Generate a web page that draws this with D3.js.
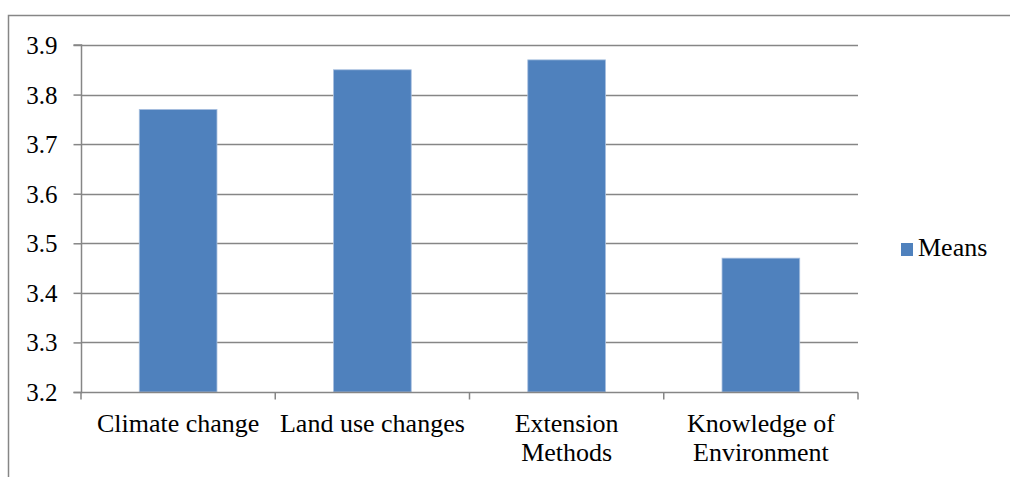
<!DOCTYPE html>
<html>
<head>
<meta charset="utf-8">
<script src="https://cdn.jsdelivr.net/npm/d3@7/dist/d3.min.js"></script>
<style>
  html, body { margin: 0; padding: 0; background: #fff; }
  svg { display: block; }
</style>
</head>
<body>
<svg id="chart" width="1010" height="477"></svg>
<script>
// Mean scores per topic
const categories = [["Climate change"], ["Land use changes"], ["Extension", "Methods"], ["Knowledge of", "Environment"]];
const meansValues = [3.77, 3.85, 3.87, 3.47];
const yTicks = [3.2, 3.3, 3.4, 3.5, 3.6, 3.7, 3.8, 3.9];
const seriesName = "Means";

const svg = d3.select("#chart");
const plot = { left: 81, right: 858, top: 45, bottom: 392 };
const gridColor = "#868686";
const barColor = "#4F81BD";

// serif label text
function serif(sel, size) {
  return sel.attr("font-family", "Liberation Serif").attr("font-size", size).attr("fill", "#000");
}

// outer frame
svg.append("path")
  .attr("d", "M8.5,477 V15.5 H1010")
  .attr("fill", "none").attr("stroke", gridColor).attr("stroke-width", 1.5);

const x = d3.scaleBand().domain(d3.range(categories.length)).range([plot.left, plot.right]).padding(0);
const y = d3.scaleLinear().domain([3.2, 3.9]).range([plot.bottom, plot.top]);

// horizontal gridlines
svg.append("g").selectAll("line").data(yTicks.slice(1)).join("line")
  .attr("x1", plot.left).attr("x2", plot.right)
  .attr("y1", d => Math.round(y(d)) + 0.5).attr("y2", d => Math.round(y(d)) + 0.5)
  .attr("stroke", gridColor).attr("stroke-width", 1.5);

// bars
const barW = x.bandwidth() * 0.4;
svg.append("g").selectAll("rect").data(meansValues).join("rect")
  .attr("x", (d, i) => x(i) + (x.bandwidth() - barW) / 2)
  .attr("width", barW)
  .attr("y", d => y(d))
  .attr("height", d => y(3.2) - y(d))
  .attr("fill", barColor)
  .attr("stroke", "#a7bfdf").attr("stroke-width", 0.8);

// y axis
const yAxis = d3.axisLeft(y).tickValues(yTicks).tickFormat(d3.format(".1f")).tickSize(8).tickPadding(16);
const gy = svg.append("g").attr("transform", `translate(${plot.left + 0.5},0)`).call(yAxis);
gy.attr("font-family", "Liberation Serif").attr("font-size", 25);
gy.select(".domain").attr("stroke", gridColor).attr("stroke-width", 1.5).attr("d", `M-8,${plot.bottom + 0.5}H0V${plot.top}H-8`);
gy.selectAll(".tick line").attr("stroke", gridColor).attr("stroke-width", 1.5);
serif(gy.selectAll(".tick text"), 25).attr("dy", "0.34em");

// x axis with ticks at category boundaries
const gx = svg.append("g").attr("transform", `translate(0,${plot.bottom + 0.5})`);
gx.append("line").attr("x1", plot.left).attr("x2", plot.right)
  .attr("stroke", gridColor).attr("stroke-width", 1.5);
gx.selectAll("line.tk").data(d3.range(categories.length + 1)).join("line").attr("class", "tk")
  .attr("x1", i => i < categories.length ? x(i) : plot.right)
  .attr("x2", i => i < categories.length ? x(i) : plot.right)
  .attr("y1", 0).attr("y2", 7)
  .attr("stroke", gridColor).attr("stroke-width", 1.5);

const labels = serif(gx.selectAll("text").data(categories).join("text"), 26)
  .attr("text-anchor", "middle")
  .attr("transform", (d, i) => `translate(${x(i) + x.bandwidth() / 2},39.3)`);
labels.selectAll("tspan").data(d => d).join("tspan")
  .attr("x", 0).attr("y", (d, j) => j * 29)
  .text(d => d);

// legend
const lg = svg.append("g").attr("transform", "translate(901,243)");
lg.append("rect").attr("width", 12).attr("height", 13).attr("fill", barColor);
serif(lg.append("text"), 26).attr("x", 17).attr("y", 12.7).text(seriesName);
</script>
</body>
</html>
